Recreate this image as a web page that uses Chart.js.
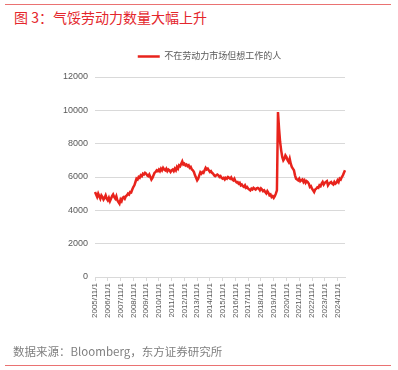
<!DOCTYPE html>
<html>
<head>
<meta charset="utf-8">
<script src="https://cdn.jsdelivr.net/npm/chart.js@4"></script>
<style>
  body { margin: 0; background: #fff; }
  #wrap { position: relative; width: 398px; height: 370px; overflow: hidden; }
  #chart { position: absolute; left: 0; top: 0; }
  .rule { position: absolute; left: 5px; width: 386px; height: 1px; background: #ea7272; }
  #title { position: absolute; left: 14px; top: 7px; font: 14px "Noto Sans CJK SC", sans-serif; color: #e4262c; white-space: nowrap; }
  #source { position: absolute; left: 13px; top: 343px; font: 11.5px "Noto Sans CJK SC", sans-serif; color: #7f7f7f; white-space: nowrap; }
</style>
</head>
<body>
<div id="wrap">
  <div class="rule" style="top:4px"></div>
  <div id="title">图 3：气馁劳动力数量大幅上升</div>
  <canvas id="chart" width="398" height="370"></canvas>
  <div id="source">数据来源：Bloomberg，东方证券研究所</div>
  <div class="rule" style="top:365px"></div>
</div>
<script>
// Series name and y ticks
const seriesName = "不在劳动力市场但想工作的人";
const yTicks = [0, 2000, 4000, 6000, 8000, 10000, 12000];

// Monthly values (thousands), 2005/11 .. 2025/6
const wantJob = [
  5100, 4950, 4800, 5000, 4850, 4700, 4900, 4800, 4650, 4750, 4900, 4700,
  4600, 4750, 4550, 4700, 4850, 4950, 4800, 4700, 4850, 4600, 4500, 4400,
  4650, 4550, 4750, 4800, 4700, 4850, 4900, 5000, 4950, 5100, 5080, 5250,
  5400, 5500, 5700, 5900, 5850, 6000, 5950, 6100, 6050, 6200, 6150, 6250,
  6200, 6100, 6050, 6150, 6000, 5850, 5950, 6100, 6250, 6300, 6400, 6350,
  6450, 6350, 6500, 6400, 6550, 6450, 6400, 6500, 6350, 6450, 6400, 6300,
  6400, 6450, 6350, 6500, 6400, 6600, 6500, 6700, 6650, 6800, 6940, 6750,
  6800, 6700, 6750, 6650, 6700, 6550, 6600, 6450, 6400, 6300, 6100, 5950,
  5800, 5900, 6100, 6280, 6200, 6300, 6250, 6400, 6550, 6450, 6500, 6400,
  6300, 6350, 6250, 6200, 6100, 6050, 6100, 6150, 6100, 6000, 6050, 5950,
  5900, 5950, 5850, 5950, 5900, 6000, 5950, 5900, 5980, 5850, 5800, 5900,
  5750, 5680, 5700, 5600, 5650, 5500, 5550, 5450, 5400, 5500, 5350, 5400,
  5300, 5250, 5200, 5300, 5250, 5350, 5300, 5250, 5320, 5350, 5300, 5200,
  5320, 5250, 5150, 5200, 5100, 5020, 5150, 5050, 4900, 4950, 4800, 4850,
  4750, 4850, 5000, 5200, 9900, 8900, 8100, 7600, 7200, 7000, 7100, 7300,
  7200, 7000, 6900, 7100, 6800, 6600, 6500, 6400, 6100, 5900, 5850, 5800,
  5900, 5750, 5800, 5850, 5700, 5800, 5650, 5750, 5700, 5600, 5400, 5450,
  5300, 5200, 5100, 5250, 5300, 5380, 5350, 5500, 5450, 5600, 5700, 5550,
  5650, 5700, 5750, 5500, 5600, 5650, 5700, 5600, 5550, 5700, 5600, 5650,
  5800, 5700, 5900, 5850, 6000, 6100, 6250, 6400
];

// Month labels in the picture's format, e.g. 2005/11/1
const months = [];
for (let i = 0; i < wantJob.length; i++) {
  const m = 10 + i; // months since 2005/01
  months.push((2005 + Math.floor(m / 12)) + "/" + (m % 12 + 1) + "/1");
}

const font = "'Liberation Sans', 'Noto Sans CJK SC', sans-serif";

// a bit more room between the legend and the plot, and nudge it right
const legendGap = {
  id: "legendGap",
  beforeInit(chart) {
    const fit = chart.legend.fit;
    chart.legend.fit = function () {
      fit.bind(chart.legend)();
      this.height += 6;
    };
  },
  afterLayout(chart) {
    chart.legend.left += 9;
    chart.legend.right += 9;
  },
};

new Chart(document.getElementById("chart"), {
  type: "line",
  data: {
    labels: months,
    datasets: [
      {
        label: seriesName,
        data: wantJob,
        borderColor: "#e8231c",
        backgroundColor: "#e8231c",
        borderWidth: 2.5,
        pointRadius: 0,
        tension: 0,
        fill: false,
      },
    ],
  },
  options: {
    responsive: false,
    animation: false,
    layout: {
      padding: { left: 56, right: 53, top: 33, bottom: 50 },
    },
    plugins: {
      legend: {
        position: "top",
        labels: {
          usePointStyle: true,
          pointStyle: "line",
          pointStyleWidth: 22,
          boxHeight: 9,
          padding: 19,
          color: "#595959",
          font: { family: font, size: 9 },
        },
      },
      tooltip: { enabled: false },
    },
    scales: {
      x: {
        type: "category",
        offset: false,
        afterBuildTicks: (scale) => {
          // keep one tick per year, at November
          scale.ticks = scale.ticks.filter((t) => months[t.value].indexOf("/11/") > 0);
        },
        ticks: {
          autoSkip: false,
          maxRotation: 90,
          minRotation: 90,
          padding: 2,
          color: "#595959",
          font: { family: font, size: 8 },
        },
        grid: { drawOnChartArea: false, tickLength: 4, color: "#d9d9d9" },
        border: { color: "#d9d9d9" },
      },
      y: {
        min: 0,
        max: 12000,
        afterBuildTicks: (scale) => {
          scale.ticks = yTicks.map((v) => ({ value: v }));
        },
        ticks: {
          padding: 7,
          color: "#595959",
          font: { family: font, size: 9 },
          callback: (v) => String(v),
        },
        grid: { color: "#d9d9d9", drawTicks: false },
        border: { display: false },
      },
    },
  },
  plugins: [legendGap],
});
</script>
</body>
</html>
